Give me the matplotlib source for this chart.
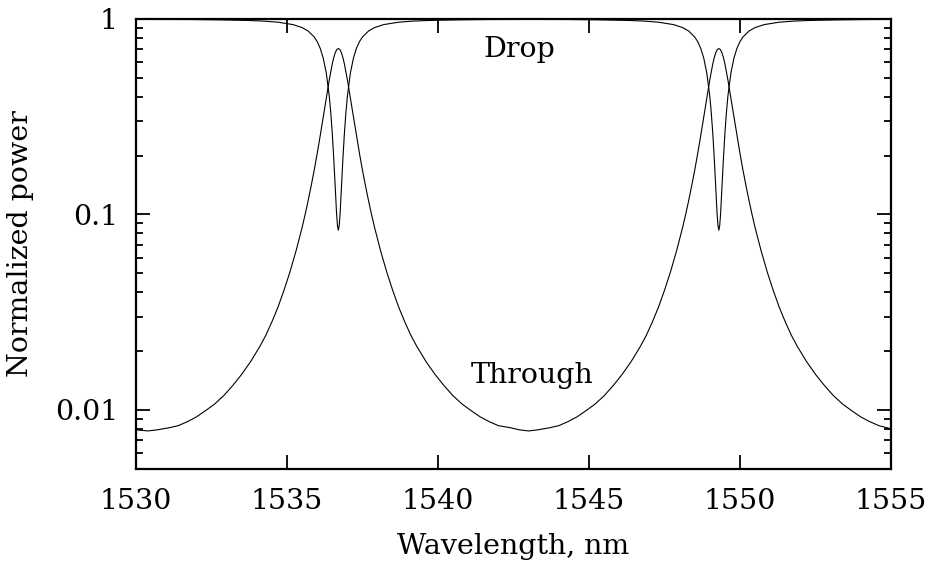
import matplotlib
matplotlib.use("Agg")
import matplotlib.pyplot as plt
from matplotlib.ticker import FixedLocator, LogLocator, NullFormatter, NullLocator

plt.rcParams['font.family'] = ['DejaVu Serif']

# Lower curve (labelled "Through")
through_wl = [1530.0, 1530.4, 1530.7, 1531.1, 1531.4, 1531.7, 1532.0, 1532.3, 1532.6, 1532.9,
              1533.2, 1533.5, 1533.8, 1534.1, 1534.3, 1534.5, 1534.7, 1534.9, 1535.1, 1535.3,
              1535.5, 1535.6, 1535.7, 1535.8, 1535.9, 1536.0, 1536.1, 1536.2, 1536.3, 1536.4,
              1536.5, 1536.55, 1536.6, 1536.65, 1536.7, 1536.75, 1536.8, 1536.85, 1536.9, 1537.0,
              1537.1, 1537.2, 1537.3, 1537.4, 1537.5, 1537.6, 1537.7, 1537.8, 1537.9, 1538.1,
              1538.3, 1538.5, 1538.7, 1538.9, 1539.1, 1539.3, 1539.6, 1539.9, 1540.2, 1540.5,
              1540.8, 1541.1, 1541.4, 1541.7, 1542.0, 1542.4, 1542.7, 1543.0, 1543.3, 1543.7,
              1544.0, 1544.3, 1544.6, 1544.9, 1545.2, 1545.5, 1545.8, 1546.1, 1546.4, 1546.7,
              1546.9, 1547.1, 1547.3, 1547.5, 1547.7, 1547.9, 1548.1, 1548.2, 1548.3, 1548.4,
              1548.5, 1548.6, 1548.7, 1548.8, 1548.9, 1549.0, 1549.1, 1549.15, 1549.2, 1549.25,
              1549.3, 1549.35, 1549.4, 1549.45, 1549.5, 1549.6, 1549.7, 1549.8, 1549.9, 1550.0,
              1550.1, 1550.2, 1550.3, 1550.4, 1550.5, 1550.7, 1550.9, 1551.1, 1551.3, 1551.5,
              1551.7, 1551.9, 1552.2, 1552.5, 1552.8, 1553.1, 1553.4, 1553.7, 1554.0, 1554.3,
              1554.6, 1555.0]
through_pw = [0.0079, 0.0078, 0.0079, 0.0081, 0.0083, 0.0087, 0.0092, 0.0099, 0.0107, 0.0118,
              0.0133, 0.0152, 0.0177, 0.0211, 0.0241, 0.0282, 0.0335, 0.0409, 0.0509, 0.0651,
              0.0857, 0.0998, 0.1175, 0.140, 0.168, 0.205, 0.253, 0.315, 0.393, 0.488,
              0.590, 0.636, 0.673, 0.698, 0.706, 0.698, 0.673, 0.636, 0.590, 0.488,
              0.393, 0.315, 0.253, 0.205, 0.168, 0.140, 0.1175, 0.0998, 0.0857, 0.0651,
              0.0509, 0.0409, 0.0335, 0.0282, 0.0241, 0.0211, 0.0177, 0.0152, 0.0133, 0.0118,
              0.0107, 0.0099, 0.0092, 0.0087, 0.0083, 0.0081, 0.0079, 0.0078, 0.0079, 0.0081,
              0.0083, 0.0087, 0.0092, 0.0099, 0.0107, 0.0118, 0.0133, 0.0152, 0.0177, 0.0211,
              0.0241, 0.0282, 0.0335, 0.0409, 0.0509, 0.0651, 0.0857, 0.0998, 0.1175, 0.140,
              0.168, 0.205, 0.253, 0.315, 0.393, 0.488, 0.590, 0.636, 0.673, 0.698,
              0.706, 0.698, 0.673, 0.636, 0.590, 0.488, 0.393, 0.315, 0.253, 0.205,
              0.168, 0.140, 0.1175, 0.0998, 0.0857, 0.0651, 0.0509, 0.0409, 0.0335, 0.0282,
              0.0241, 0.0211, 0.0177, 0.0152, 0.0133, 0.0118, 0.0107, 0.0099, 0.0092, 0.0087,
              0.0083, 0.0080]

# Upper curve (labelled "Drop")
drop_wl = [1530.0, 1531.7, 1532.7, 1533.7, 1534.2, 1534.7, 1535.2, 1535.5, 1535.7, 1535.9,
           1536.0, 1536.1, 1536.2, 1536.3, 1536.4, 1536.45, 1536.5, 1536.55, 1536.6, 1536.64,
           1536.67, 1536.7, 1536.73, 1536.76, 1536.8, 1536.85, 1536.9, 1536.95, 1537.0, 1537.1,
           1537.2, 1537.3, 1537.4, 1537.5, 1537.7, 1537.9, 1538.2, 1538.7, 1539.2, 1539.7,
           1540.7, 1541.7, 1543.0, 1544.3, 1545.3, 1546.3, 1546.8, 1547.3, 1547.8, 1548.1,
           1548.3, 1548.5, 1548.6, 1548.7, 1548.8, 1548.9, 1549.0, 1549.05, 1549.1, 1549.15,
           1549.2, 1549.24, 1549.27, 1549.3, 1549.33, 1549.36, 1549.4, 1549.45, 1549.5, 1549.55,
           1549.6, 1549.7, 1549.8, 1549.9, 1550.0, 1550.1, 1550.3, 1550.5, 1550.8, 1551.3,
           1551.8, 1552.3, 1553.3, 1554.3, 1555.0]
drop_pw = [0.995, 0.994, 0.990, 0.983, 0.976, 0.963, 0.936, 0.904, 0.868, 0.809,
           0.766, 0.708, 0.631, 0.530, 0.403, 0.331, 0.259, 0.191, 0.135, 0.102,
           0.088, 0.083, 0.088, 0.102, 0.135, 0.191, 0.259, 0.331, 0.403, 0.530,
           0.631, 0.708, 0.766, 0.809, 0.868, 0.904, 0.936, 0.963, 0.976, 0.983,
           0.990, 0.994, 0.995, 0.994, 0.990, 0.983, 0.976, 0.963, 0.936, 0.904,
           0.868, 0.809, 0.766, 0.708, 0.631, 0.530, 0.403, 0.331, 0.259, 0.191,
           0.135, 0.102, 0.088, 0.083, 0.088, 0.102, 0.135, 0.191, 0.259, 0.331,
           0.403, 0.530, 0.631, 0.708, 0.766, 0.809, 0.868, 0.904, 0.936, 0.963,
           0.976, 0.983, 0.990, 0.994, 0.995]

x_ticks = [1530, 1535, 1540, 1545, 1550, 1555]
y_ticks = [0.01, 0.1, 1]
y_ticklabels = ["0.01", "0.1", "1"]

FS = 20.5

fig = plt.figure(figsize=(9.36, 5.67), dpi=100)
ax = fig.add_axes([0.1453, 0.1734, 0.9519 - 0.1453, 0.9665 - 0.1734])

ax.plot(through_wl, through_pw, color='black', lw=0.8)
ax.plot(drop_wl, drop_pw, color='black', lw=0.8)

ax.set_yscale('log')
ax.set_xlim(1530, 1555)
ax.set_ylim(0.005, 1)

ax.xaxis.set_major_locator(FixedLocator(x_ticks))
ax.xaxis.set_minor_locator(NullLocator())
ax.set_xticklabels([str(v) for v in x_ticks])
ax.yaxis.set_major_locator(FixedLocator(y_ticks))
ax.set_yticklabels(y_ticklabels)
ax.yaxis.set_minor_locator(LogLocator(base=10, subs=[2, 3, 4, 5, 6, 7, 8, 9]))
ax.yaxis.set_minor_formatter(NullFormatter())

ax.tick_params(which='both', direction='in', top=True, right=True, labelsize=FS, color='black')
ax.tick_params(axis='x', which='major', length=10, width=1.3, pad=14)
ax.tick_params(axis='y', which='major', length=10, width=1.3, pad=13)
ax.tick_params(axis='y', which='minor', length=5, width=1.3)

for s in ax.spines.values():
    s.set_linewidth(1.6)

ax.set_xlabel("Wavelength, nm", fontsize=FS, labelpad=13)
ax.set_ylabel("Normalized power", fontsize=FS, labelpad=15)

ax.text(1541.5, 0.64, "Drop", fontsize=FS, ha='left', va='baseline')
ax.text(1541.1, 0.0137, "Through", fontsize=FS, ha='left', va='baseline')

fig.savefig("out.png", dpi=100)
